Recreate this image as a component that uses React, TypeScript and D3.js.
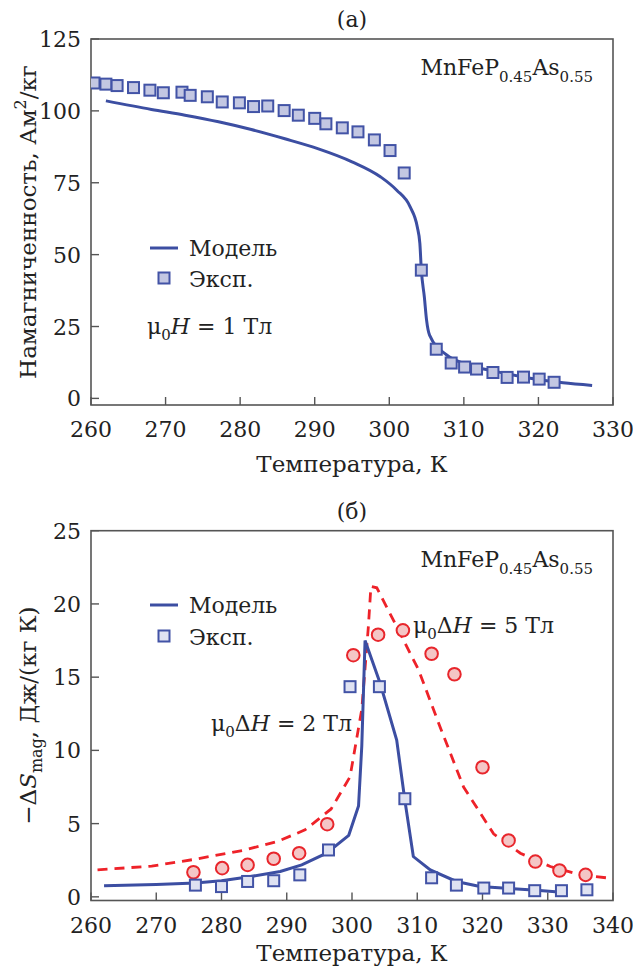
import * as d3 from "d3";
import React from "react";

// (a) magnetization at mu0H = 1 T
const magExpT = [260.4, 262.0, 263.5, 265.7, 267.9, 269.7, 272.2, 273.3, 275.6, 277.6, 279.9, 281.8, 283.7, 285.9, 287.8, 290.0, 291.5, 293.7, 295.8, 298.0, 300.1, 302.0, 304.3, 306.3, 308.3, 310.1, 311.7, 313.9, 315.8, 318.0, 320.1, 322.1];
const magExpM = [109.7, 109.3, 108.8, 108.1, 107.2, 106.3, 106.5, 105.4, 104.9, 103.1, 102.8, 101.5, 101.7, 100.1, 98.5, 97.4, 95.5, 94.1, 92.7, 89.9, 86.2, 78.4, 44.6, 17.1, 12.3, 10.9, 10.2, 9.0, 7.3, 7.4, 6.7, 5.6];
const magModelT = [262.0, 268.1, 272.6, 277.1, 281.5, 286.0, 290.5, 295.0, 298.8, 301.0, 302.8, 303.75, 304.1, 304.3, 304.7, 305.0, 305.4, 307.7, 309.9, 314.4, 318.9, 323.3, 327.2];
const magModelM = [103.5, 100.5, 98.5, 96.2, 93.5, 90.3, 86.8, 82.3, 77.1, 72.4, 66.6, 59.7, 53.9, 44.6, 35.3, 27.2, 22.0, 15.1, 12.2, 9.3, 7.0, 5.4, 4.5];

// (б) entropy change
const ds2ModelT = [262, 270, 276, 280, 284, 289.0, 292.3, 296.1, 299.5, 301.0, 301.5, 302.0, 304.3, 306.85, 308.1, 309.4, 312.0, 316.0, 319.6, 324.7, 328.3, 332.6];
const ds2ModelS = [0.75, 0.85, 0.95, 1.1, 1.35, 1.73, 2.18, 2.98, 4.2, 6.2, 10.3, 17.5, 14.6, 10.7, 6.6, 2.75, 1.84, 1.05, 0.7, 0.55, 0.45, 0.3];
const ds2ExpT = [276, 280, 284, 288, 292, 296.4, 299.7, 304.2, 308.1, 312.2, 316, 320.2, 324, 328, 332.1, 336];
const ds2ExpS = [0.8, 0.7, 1.05, 1.1, 1.5, 3.2, 14.35, 14.35, 6.7, 1.3, 0.8, 0.6, 0.6, 0.42, 0.42, 0.48];
const ds5ModelT = [261, 269.3, 276, 283.6, 288.7, 292.8, 296.8, 299.7, 301.5, 302.5, 302.9, 303.8, 306.85, 310.2, 313.5, 317.1, 321.7, 325.8, 330.4, 335.0, 340];
const ds5ModelS = [1.84, 2.1, 2.57, 3.2, 3.8, 4.57, 6.0, 8.2, 12.8, 18.4, 21.2, 21.1, 18.45, 15.5, 11.6, 7.5, 4.3, 2.98, 2.07, 1.5, 1.25];
const ds5ExpT = [275.7, 280.1, 284, 288, 291.9, 296.2, 300.2, 304, 307.8, 312.2, 315.7, 320, 324, 328.1, 331.8, 335.8];
const ds5ExpS = [1.68, 1.96, 2.18, 2.6, 2.98, 4.96, 16.5, 17.9, 18.2, 16.6, 15.2, 8.85, 3.85, 2.41, 1.8, 1.5];

const tempTicksA = [260, 270, 280, 290, 300, 310, 320, 330];
const magTicks = [0, 25, 50, 75, 100, 125];
const tempTicksB = [260, 270, 280, 290, 300, 310, 320, 330, 340];
const dsTicks = [0, 5, 10, 15, 20, 25];

const FONT = "DejaVu Serif";
const BLUE = "#3c4ea2";
const RED = "#ee2229";
const AXIS = "#555";
const INK = "#222";

const left = 91;
const right = 613;

function Frame({ x, y, xTicks, yTicks, top, bottom }) {
  return (
    <g fill={INK}>
      <rect x={left} y={top} width={right - left} height={bottom - top} fill="none" stroke={AXIS} strokeWidth={1.6} />
      {xTicks.map((t) => (
        <g key={"x" + t}>
          <line x1={x(t)} x2={x(t)} y1={bottom} y2={bottom - 8} stroke={AXIS} strokeWidth={1.4} />
          <text x={x(t)} y={bottom + 32} fontSize={22} textAnchor="middle">{t}</text>
        </g>
      ))}
      {yTicks.map((t) => (
        <g key={"y" + t}>
          <line x1={left} x2={left + 8} y1={y(t)} y2={y(t)} stroke={AXIS} strokeWidth={1.4} />
          <text x={81} y={y(t) + 8} fontSize={22} textAnchor="end">{t}</text>
        </g>
      ))}
    </g>
  );
}

function Square({ cx, cy, fill }) {
  return <rect x={cx - 5.5} y={cy - 5.5} width={11} height={11} fill={fill} stroke="#4253a6" strokeWidth={2} />;
}

export default function App() {
  // panel (a)
  const topA = 39, botA = 405;
  const xA = d3.scaleLinear().domain([260, 330]).range([left, right]);
  const yA = d3.scaleLinear().domain([-2.3, 125]).range([botA, topA]);
  const lineA = d3.line<number>().x((d, i) => xA(magModelT[i])).y((d) => yA(d)).curve(d3.curveMonotoneX);

  // panel (б)
  const topB = 530.7, botB = 900.5;
  const xB = d3.scaleLinear().domain([260, 340]).range([left, right]);
  const yB = d3.scaleLinear().domain([-0.25, 25]).range([botB, topB]);
  const line2 = d3.line<number>().x((d, i) => xB(ds2ModelT[i])).y((d) => yB(d));
  const line5 = d3.line<number>().x((d, i) => xB(ds5ModelT[i])).y((d) => yB(d));

  const formula = (yy: number) => (
    <text x={593} y={yy} fontSize={22} textAnchor="end" fill={INK}>
      MnFeP<tspan fontSize={15} dy={7}>0.45</tspan><tspan dy={-7}>As</tspan><tspan fontSize={15} dy={7}>0.55</tspan>
    </text>
  );

  return (
    <svg width={633} height={967} fontFamily={FONT} style={{ position: "absolute", left: 0, top: 0, background: "#fff" }}>
      <defs>
        <clipPath id="clipA"><rect x={left} y={topA} width={right - left} height={botA - topA} /></clipPath>
        <clipPath id="clipB"><rect x={left} y={topB} width={right - left} height={botB - topB} /></clipPath>
      </defs>
      <rect width={633} height={967} fill="#fff" />

      {/* panel (a) */}
      <text x={352} y={27} fontSize={22} textAnchor="middle" fill={INK}>(a)</text>
      <Frame x={xA} y={yA} xTicks={tempTicksA} yTicks={magTicks} top={topA} bottom={botA} />
      <text x={352} y={472} fontSize={23} textAnchor="middle" fill={INK}>Температура, К</text>
      <text transform={`translate(36,${(topA + botA) / 2}) rotate(-90)`} fontSize={23} textAnchor="middle" fill={INK}>
        Намагниченность, Ам<tspan fontSize={16} dy={-10}>2</tspan><tspan dy={10}>/кг</tspan>
      </text>
      {formula(75)}
      <g clipPath="url(#clipA)">
        <path d={lineA(magModelM) || ""} fill="none" stroke={BLUE} strokeWidth={3} />
        {magExpM.map((m, i) => (
          <Square key={i} cx={xA(magExpT[i])} cy={yA(m)} fill="#c3c7e2" />
        ))}
      </g>
      <line x1={150} x2={178} y1={248} y2={248} stroke={BLUE} strokeWidth={3} />
      <text x={189} y={256} fontSize={22} fill={INK}>Модель</text>
      <Square cx={164} cy={278} fill="#c3c7e2" />
      <text x={189} y={287} fontSize={22} fill={INK}>Эксп.</text>
      <text x={147} y={334} fontSize={22} fill={INK}>
        μ<tspan fontSize={15} dy={6}>0</tspan><tspan dy={-6} fontStyle="italic">H</tspan> = 1 Тл
      </text>

      {/* panel (б) */}
      <text x={352} y={519} fontSize={22} textAnchor="middle" fill={INK}>(б)</text>
      <Frame x={xB} y={yB} xTicks={tempTicksB} yTicks={dsTicks} top={topB} bottom={botB} />
      <text x={352} y={961} fontSize={23} textAnchor="middle" fill={INK}>Температура, К</text>
      <text transform={`translate(36,${(topB + botB) / 2}) rotate(-90)`} fontSize={23} textAnchor="middle" fill={INK}>
        −Δ<tspan fontStyle="italic">S</tspan><tspan fontSize={16} dy={6}>mag</tspan><tspan dy={-6}>, Дж/(кг К)</tspan>
      </text>
      {formula(topB + 36)}
      <g clipPath="url(#clipB)">
        <path d={line5(ds5ModelS) || ""} fill="none" stroke={RED} strokeWidth={2.8} strokeDasharray="10,7" />
        <path d={line2(ds2ModelS) || ""} fill="none" stroke={BLUE} strokeWidth={3} />
        {ds5ExpS.map((s, i) => (
          <circle key={"c" + i} cx={xB(ds5ExpT[i])} cy={yB(s)} r={6.3} fill="#f4c6c6" stroke="#e8262c" strokeWidth={2} />
        ))}
        {ds2ExpS.map((s, i) => (
          <Square key={"s" + i} cx={xB(ds2ExpT[i])} cy={yB(s)} fill="#dfe2f2" />
        ))}
      </g>
      <line x1={150} x2={178} y1={605} y2={605} stroke={BLUE} strokeWidth={3} />
      <text x={189} y={613} fontSize={22} fill={INK}>Модель</text>
      <Square cx={164} cy={636} fill="#dfe2f2" />
      <text x={189} y={645} fontSize={22} fill={INK}>Эксп.</text>
      <text x={352} y={731} fontSize={22} textAnchor="end" fill={INK}>
        μ<tspan fontSize={15} dy={6}>0</tspan><tspan dy={-6}>Δ</tspan><tspan fontStyle="italic">H</tspan> = 2 Тл
      </text>
      <text x={413} y={633} fontSize={22} fill={INK}>
        μ<tspan fontSize={15} dy={6}>0</tspan><tspan dy={-6}>Δ</tspan><tspan fontStyle="italic">H</tspan> = 5 Тл
      </text>
    </svg>
  );
}
